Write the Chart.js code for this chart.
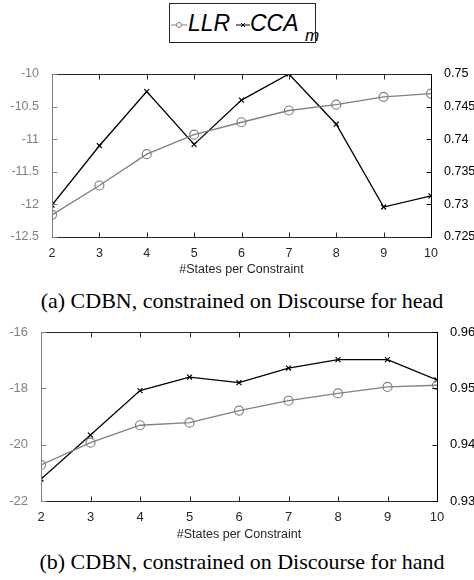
<!DOCTYPE html>
<html lang="en">
<head>
  <meta charset="UTF-8" />
  <title>LLR and CCA vs states per constraint</title>
  <script src="https://cdn.jsdelivr.net/npm/chart.js"></script>
  <style>
    html, body {
      margin: 0;
      padding: 0;
      width: 474px;
      height: 580px;
      background: #fff;
      overflow: hidden;
      position: relative;
    }
    .legend {
      position: absolute;
      left: 169px;
      top: 3px;
      width: 147px;
      height: 40px;
      border: 1px solid #262626;
      box-sizing: border-box;
      font-family: "Liberation Sans", Arial, sans-serif;
      font-style: italic;
    }
    .legend span { position: absolute; white-space: nowrap; }
    .legend svg { position: absolute; }
    .chart-box { position: absolute; left: 0; width: 474px; }
    .caption {
      position: absolute;
      left: 5px;
      width: 474px;
      text-align: center;
      font-family: "Liberation Serif", "Times New Roman", serif;
      font-size: 22px;
      color: #000;
      line-height: 24px;
      white-space: nowrap;
    }
  </style>
</head>
<body>
  <div class="legend">
    <svg style="left:1px;top:15px" width="16" height="12">
      <line x1="0" y1="6" x2="16" y2="6" stroke="#808080" stroke-width="1" />
      <circle cx="8" cy="6" r="2.5" fill="#fff" stroke="#808080" stroke-width="1" />
    </svg>
    <span style="left:18px;top:6px;font-size:23px;line-height:27px">LLR</span>
    <svg style="left:66px;top:15px" width="14" height="12">
      <line x1="0" y1="6" x2="14" y2="6" stroke="#000" stroke-width="1" />
      <line x1="5" y1="4" x2="9" y2="8" stroke="#000" stroke-width="1" />
      <line x1="9" y1="4" x2="5" y2="8" stroke="#000" stroke-width="1" />
    </svg>
    <span style="left:80px;top:6px;font-size:23px;line-height:27px">CCA</span>
    <span style="left:135px;top:22px;font-size:17px;line-height:20px">m</span>
  </div>

  <div class="chart-box" style="top:58px;height:222px"><canvas id="headChart"></canvas></div>
  <div class="caption" style="top:289px">(a) CDBN, constrained on Discourse for head</div>

  <div class="chart-box" style="top:316px;height:229px"><canvas id="handChart"></canvas></div>
  <div class="caption" style="top:550px">(b) CDBN, constrained on Discourse for hand</div>

  <script>
    const statesPerConstraint = [2, 3, 4, 5, 6, 7, 8, 9, 10];
    // (a) head
    const llrHead = [-12.16, -11.71, -11.23, -10.93, -10.74, -10.56, -10.47, -10.35, -10.30];
    const ccaHead = [0.7299, 0.7390, 0.7473, 0.7392, 0.7460, 0.7500, 0.7423, 0.7296, 0.7313];
    // (b) hand
    const llrHand = [-20.72, -19.93, -19.31, -19.22, -18.79, -18.44, -18.18, -17.95, -17.89];
    const ccaHand = [0.9339, 0.9417, 0.9496, 0.9520, 0.9510, 0.9536, 0.9551, 0.9551, 0.9515];

    const GRAY = '#808080';
    const DARK = '#262626';
    const FONT = '"Liberation Sans", Arial, Helvetica, sans-serif';

    // matlab style box with ticks pointing inwards
    const frameTicks = {
      id: 'frameTicks',
      afterDraw(chart) {
        const { ctx, chartArea: a, scales } = chart;
        const L = Math.round(a.left) + 0.5, R = Math.round(a.right) + 0.5;
        const T = Math.round(a.top) + 0.5, B = Math.round(a.bottom) + 0.5;
        const seg = (x1, y1, x2, y2) => { ctx.beginPath(); ctx.moveTo(x1, y1); ctx.lineTo(x2, y2); ctx.stroke(); };
        ctx.save();
        ctx.lineWidth = 1;
        ctx.strokeStyle = DARK;
        seg(L, T, R, T);
        seg(L, B, R, B);
        scales.x.ticks.forEach(t => {
          const px = Math.round(scales.x.getPixelForValue(t.value)) + 0.5;
          seg(px, B, px, B - 5);
          seg(px, T, px, T + 5);
        });
        ctx.strokeStyle = GRAY;
        seg(L, T, L, B);
        scales.y.ticks.forEach(t => {
          const py = Math.round(scales.y.getPixelForValue(t.value)) + 0.5;
          seg(L, py, L + 5, py);
        });
        ctx.strokeStyle = '#000';
        seg(R, T, R, B);
        scales.y1.ticks.forEach(t => {
          const py = Math.round(scales.y1.getPixelForValue(t.value)) + 0.5;
          seg(R, py, R - 5, py);
        });
        ctx.restore();
      }
    };

    const fmt = v => String(+Number(v).toFixed(4));

    function makeChart(id, llr, cca, opt) {
      return new Chart(document.getElementById(id), {
        type: 'line',
        data: {
          datasets: [
            {
              label: 'LLR',
              data: statesPerConstraint.map((x, i) => ({ x: x, y: llr[i] })),
              yAxisID: 'y',
              borderColor: GRAY,
              backgroundColor: 'rgba(0,0,0,0)',
              borderWidth: 1.3,
              pointStyle: 'circle',
              pointRadius: 4.5,
              pointBorderWidth: 1.2,
              pointBorderColor: GRAY,
              pointBackgroundColor: 'rgba(0,0,0,0)',
              tension: 0
            },
            {
              label: 'CCA_m',
              data: statesPerConstraint.map((x, i) => ({ x: x, y: cca[i] })),
              yAxisID: 'y1',
              borderColor: '#000',
              backgroundColor: 'rgba(0,0,0,0)',
              borderWidth: 1.3,
              pointStyle: 'crossRot',
              pointRadius: 3.5,
              pointBorderWidth: 1.2,
              pointBorderColor: '#000',
              tension: 0
            }
          ]
        },
        options: {
          responsive: true,
          maintainAspectRatio: false,
          animation: false,
          layout: { padding: { top: 16, left: 0, right: 0, bottom: 0 } },
          plugins: { legend: { display: false }, tooltip: { enabled: false } },
          scales: {
            x: {
              type: 'linear',
              min: 2,
              max: 10,
              grid: { display: false },
              border: { display: false },
              ticks: { stepSize: 1, color: DARK, padding: 1, font: { family: FONT, size: opt.font }, maxRotation: 0 },
              title: {
                display: true,
                text: '#States per Constraint',
                color: DARK,
                font: { family: FONT, size: 12.5 },
                padding: { top: 0, bottom: 3 }
              },
              afterFit: s => { s.height = opt.xh; }
            },
            y: {
              position: 'left',
              min: opt.lMin,
              max: opt.lMax,
              grid: { display: false },
              border: { display: false },
              ticks: { stepSize: opt.lStep, color: GRAY, padding: 5, font: { family: FONT, size: opt.font }, callback: fmt },
              afterFit: s => { s.width = opt.left; }
            },
            y1: {
              position: 'right',
              min: opt.rMin,
              max: opt.rMax,
              grid: { display: false },
              border: { display: false },
              ticks: { stepSize: opt.rStep, color: '#000', padding: 5, font: { family: FONT, size: opt.font }, callback: fmt },
              afterFit: s => { s.width = opt.right; }
            }
          }
        },
        plugins: [frameTicks]
      });
    }

    makeChart('headChart', llrHead, ccaHead, {
      lMin: -12.5, lMax: -10, lStep: 0.5,
      rMin: 0.725, rMax: 0.75, rStep: 0.005,
      left: 52, right: 43, xh: 43, font: 12.5
    });
    makeChart('handChart', llrHand, ccaHand, {
      lMin: -22, lMax: -16, lStep: 2,
      rMin: 0.93, rMax: 0.96, rStep: 0.01,
      left: 41, right: 37, xh: 44, font: 13
    });
  </script>
</body>
</html>
